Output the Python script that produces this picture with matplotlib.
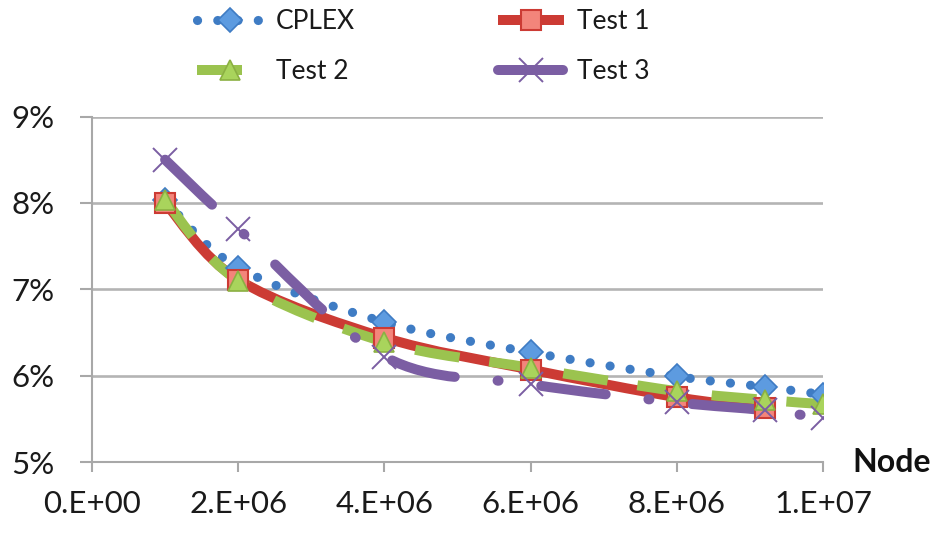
import matplotlib
matplotlib.use("Agg")
import matplotlib.pyplot as plt
from matplotlib.path import Path
from matplotlib.patches import PathPatch
from matplotlib.lines import Line2D
from matplotlib.ticker import FixedLocator, FuncFormatter

# ---- data -------------------------------------------------------------
nodes = [1e6, 2e6, 4e6, 6e6, 8e6, 9.2e6, 1e7]
cplex = [8.03, 7.25, 6.62, 6.27, 5.99, 5.87, 5.78]
test1 = [8.00, 7.11, 6.44, 6.07, 5.75, 5.62]
test2 = [8.03, 7.10, 6.39, 6.09, 5.82, 5.72, 5.67]
test3 = [8.50, 7.70, 6.22, 5.90, 5.69, 5.60, 5.51]

x_ticks = [0, 2e6, 4e6, 6e6, 8e6, 1e7]
x_tick_labels = ["0.E+00", "2.E+06", "4.E+06", "6.E+06", "8.E+06", "1.E+07"]
y_ticks = [5, 6, 7, 8, 9]
series_names = ["CPLEX", "Test 1", "Test 2", "Test 3"]

FONT = ["Lato", "DejaVu Sans"]
plt.rcParams["font.family"] = FONT

fig = plt.figure(figsize=(9.4, 5.35), dpi=100)
ax = fig.add_axes([92 / 940, 1 - 462 / 535, (823 - 92) / 940, (462 - 116.5) / 535])


def smooth_path(xs, ys):
    """Cubic Bezier path through the points (Catmull-Rom style tangents)."""
    pts = list(zip(xs, ys))
    n = len(pts)
    verts = [pts[0]]
    codes = [Path.MOVETO]
    for i in range(n - 1):
        p0 = pts[max(i - 1, 0)]
        p1 = pts[i]
        p2 = pts[i + 1]
        p3 = pts[min(i + 2, n - 1)]
        c1 = (p1[0] + (p2[0] - p0[0]) / 6, p1[1] + (p2[1] - p0[1]) / 6)
        c2 = (p2[0] - (p3[0] - p1[0]) / 6, p2[1] - (p3[1] - p1[1]) / 6)
        verts += [c1, c2, p2]
        codes += [Path.CURVE4] * 3
    return Path(verts, codes)


blue, blue_fill = "#3f7cc4", "#5d9be0"
red, red_fill = "#cc3b34", "#f3857b"
green, green_fill = "#9bc34f", "#a9d45c"
purple = "#7b5ea3"

styles = [
    dict(color=blue, lw=6.6, ls=(0, (0.01, 2.2)), cap="round", z=2),
    dict(color=red, lw=7.2, ls="-", cap="butt", z=3),
    dict(color=green, lw=7.2, ls=(0, (4.5, 3)), cap="butt", z=4),
    dict(color=purple, lw=7.2, ls=(0, (6.5, 4.3, 0.1, 4.3)), cap="round", z=5),
]
markers = [
    dict(marker="D", ms=12, mfc=blue_fill, mec=blue, mew=1.2),
    dict(marker="s", ms=15, mfc=red_fill, mec=red, mew=1.5),
    dict(marker="^", ms=15, mfc=green_fill, mec="#8bb043", mew=1.2),
    dict(marker="x", ms=17, mfc=purple, mec=purple, mew=1.4),
]

all_y = [cplex, test1, test2, test3]
for ys, st in zip(all_y, styles):
    xs = nodes[: len(ys)]
    patch = PathPatch(smooth_path(xs, ys), fill=False, edgecolor=st["color"],
                      lw=st["lw"], linestyle=st["ls"], capstyle=st["cap"],
                      joinstyle="round", zorder=st["z"])
    ax.add_patch(patch)

for k, (ys, mk) in enumerate(zip(all_y, markers)):
    xs = nodes[: len(ys)]
    ax.plot(xs, ys, ls="none", zorder=6 + k, **mk)

# ---- axes -------------------------------------------------------------
ax.set_xlim(0, 1e7)
ax.set_ylim(5, 9)
ax.xaxis.set_major_locator(FixedLocator(x_ticks))
ax.set_xticklabels(x_tick_labels)
ax.yaxis.set_major_locator(FixedLocator(y_ticks))
ax.yaxis.set_major_formatter(FuncFormatter(lambda v, p: f"{v:.0f}%"))

ax.grid(axis="y", color="#b4b4b4", lw=1.9, zorder=0)
ax.set_axisbelow(True)
for side in ("top", "right"):
    ax.spines[side].set_visible(False)
for side in ("left", "bottom"):
    ax.spines[side].set_color("#a8a8a8")
    ax.spines[side].set_linewidth(1.5)

ax.tick_params(axis="x", direction="out", length=7, width=1.5, color="#a8a8a8",
               labelsize=22.5, pad=13, labelcolor="#1a1a1a")
ax.tick_params(axis="y", direction="out", length=9, width=1.5, color="#a8a8a8",
               labelsize=22.5, pad=18, labelcolor="#1a1a1a")

ax.annotate("Node", xy=(1, 0), xycoords="axes fraction", xytext=(21, 0),
            textcoords="offset points", ha="left", va="center",
            fontsize=23, fontweight="bold", color="#111111")

# ---- legend -----------------------------------------------------------
handles = []
for st, mk, name in zip(styles, markers, series_names):
    h = Line2D([], [], color=st["color"], lw=st["lw"], ls=st["ls"],
               solid_capstyle=st["cap"], dash_capstyle=st["cap"], **mk)
    handles.append(h)
order = [0, 2, 1, 3]
leg = fig.legend([handles[i] for i in order], [series_names[i] for i in order],
                 loc="upper left", bbox_to_anchor=(197 / 940, 1 - 9 / 535),
                 ncol=2, frameon=False, fontsize=19, handlelength=2.5,
                 handletextpad=0.5, columnspacing=5.4, labelspacing=0.95,
                 borderpad=0, borderaxespad=0, numpoints=1)
for t in leg.get_texts():
    t.set_color("#1a1a1a")

fig.savefig("out.png", dpi=100, facecolor="white")
